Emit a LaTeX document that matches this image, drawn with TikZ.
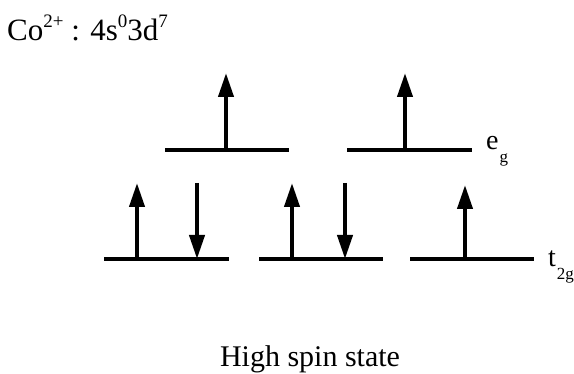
\documentclass[tikz,border=0pt]{standalone}
\usepackage{fontspec}
\setmainfont{Liberation Serif}
\usetikzlibrary{arrows.meta}
\newcommand{\supx}[1]{\raisebox{13pt}{\fontsize{19}{19}\selectfont #1}}
\newcommand{\subx}[1]{\kern1pt\raisebox{-13pt}{\fontsize{17}{17}\selectfont #1}}
\begin{document}
\begin{tikzpicture}[x=1pt,y=-1pt,
  level/.style={line width=4pt},
  spin/.style={line width=4pt,-{Triangle[length=24pt,width=15pt]}},
  lbl/.style={inner sep=0pt,font=\fontsize{30}{32}\selectfont}]
\useasboundingbox (0,0) rectangle (574,374);
% title and caption
\node[lbl,anchor=base west,font=\fontsize{31}{32}\selectfont] (title) at (7,41) {Co\supx{2+} : 4s\supx{0}3d\supx{7}};
\node[lbl,anchor=base] (cap) at (310,367) {High spin state};
% eg levels
\coordinate (e1l) at (165,150); \coordinate (e1r) at (289,150);
\coordinate (e2l) at (347,150); \coordinate (e2r) at (472,150);
\draw[level] (e1l) -- (e1r);
\draw[level] (e2l) -- (e2r);
\coordinate (e1b) at (226,150); \coordinate (e1t) at (226,73);
\coordinate (e2b) at (405,150); \coordinate (e2t) at (405,73);
\draw[spin] (e1b) -- (e1t);
\draw[spin] (e2b) -- (e2t);
\node[lbl,anchor=base west,font=\fontsize{28}{30}\selectfont] (eg) at (486,150) {e\subx{g}};
% t2g levels
\coordinate (t1l) at (104,259); \coordinate (t1r) at (229,259);
\coordinate (t2l) at (259,259); \coordinate (t2r) at (383,259);
\coordinate (t3l) at (410,259); \coordinate (t3r) at (534,259);
\draw[level] (t1l) -- (t1r);
\draw[level] (t2l) -- (t2r);
\draw[level] (t3l) -- (t3r);
\coordinate (u1b) at (137,259); \coordinate (u1t) at (137,183);
\coordinate (d1t) at (197,183); \coordinate (d1b) at (197,259);
\coordinate (u2b) at (292,259); \coordinate (u2t) at (292,183);
\coordinate (d2t) at (345,183); \coordinate (d2b) at (345,259);
\coordinate (u3b) at (465,259); \coordinate (u3t) at (465,185);
\draw[spin] (u1b) -- (u1t);
\draw[spin] (d1t) -- (d1b);
\draw[spin] (u2b) -- (u2t);
\draw[spin] (d2t) -- (d2b);
\draw[spin] (u3b) -- (u3t);
\node[lbl,anchor=base west,font=\fontsize{28}{30}\selectfont] (t2g) at (548,267) {t\subx{2g}};
\end{tikzpicture}
\end{document}
